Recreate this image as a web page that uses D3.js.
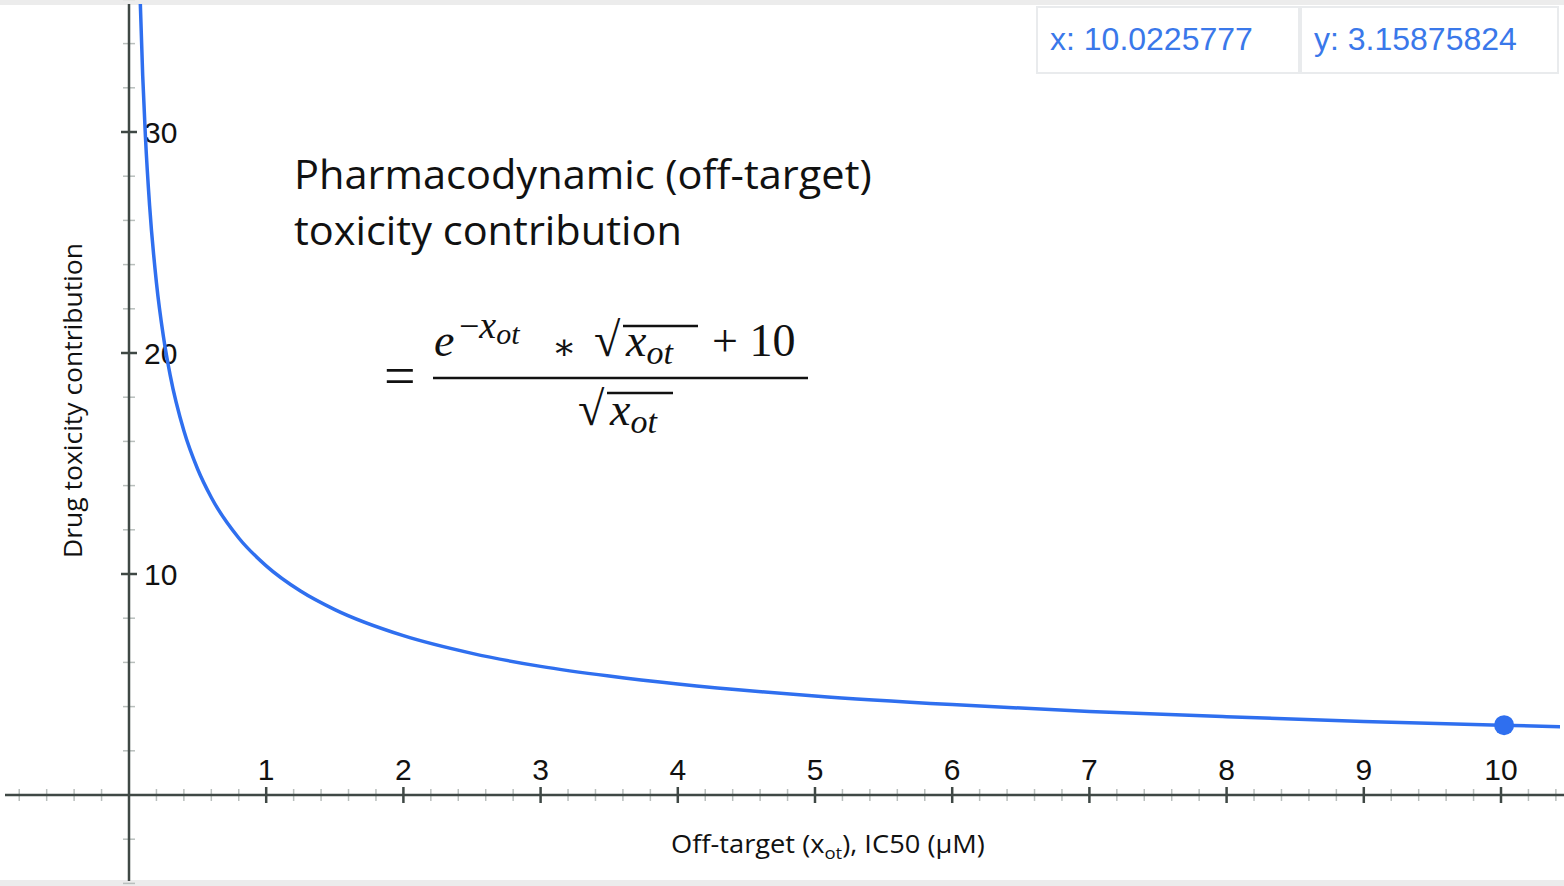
<!DOCTYPE html>
<html>
<head>
<meta charset="utf-8">
<script src="https://cdn.jsdelivr.net/npm/d3@7"></script>
<style>
  body { margin: 0; background: #fff; }
  svg { display: block; }
</style>
</head>
<body>
<svg id="chart" width="1564" height="886"></svg>
<script>
// curve: off-target IC50 (x) vs toxicity contribution (y)
var XOT = [0.08, 0.1, 0.12, 0.15, 0.2, 0.25, 0.3, 0.4, 0.5, 0.6, 0.8, 1, 1.25, 1.5, 2, 2.5, 3, 3.5, 4, 5, 6, 7, 8, 9, 10, 10.45];
var TOX = [36.28, 32.53, 29.75, 26.68, 23.18, 20.78, 19.0, 16.48, 14.75, 13.46, 11.63, 10.37, 9.23, 8.39, 7.21, 6.41, 5.82, 5.38, 5.02, 4.48, 4.09, 3.78, 3.54, 3.33, 3.16, 3.09];
var X_TICKS = [1, 2, 3, 4, 5, 6, 7, 8, 9, 10];
var Y_TICKS = [10, 20, 30];
var POINT = [10.0225777, 3.15875824];
var READOUT = ['x: 10.0225777', 'y: 3.15875824'];

var svg = d3.select('#chart');
var W = 1564, H = 886;

var x = d3.scaleLinear().domain([0, 10]).range([129, 1501]);
var y = d3.scaleLinear().domain([0, 30]).range([795, 132]);

// stretch a text horizontally so it spans `target` px, anchored at x0 (the source font is wider than ours)
function stretch(sel, x0, target){
  var w = sel.node().getComputedTextLength();
  sel.attr('transform', 'translate(' + x0 + ',0) scale(' + (target / w) + ',1) translate(' + (-x0) + ',0)');
}

// faint frame strips like the screenshot
svg.append('rect').attr('x', 0).attr('y', 0).attr('width', W).attr('height', 5).attr('fill', '#ececec');
svg.append('rect').attr('x', 0).attr('y', 880).attr('width', W).attr('height', 6).attr('fill', '#ececec');

var axisCol = '#3f4845';

// minor ticks
var xMinor = d3.range(-4, 53).map(function(i){ return i * 0.2; }).filter(function(v){ return Math.abs(v - Math.round(v)) > 0.01; });
svg.append('g').selectAll('line').data(xMinor).enter().append('line')
  .attr('x1', function(d){ return x(d); }).attr('x2', function(d){ return x(d); })
  .attr('y1', y(0) - 6).attr('y2', y(0) + 6)
  .attr('stroke', '#b9bfbd').attr('stroke-width', 1.5);

var yMinor = d3.range(-4, 38, 2).filter(function(v){ return v % 10 !== 0; });
svg.append('g').selectAll('line').data(yMinor).enter().append('line')
  .attr('x1', x(0) - 6).attr('x2', x(0) + 6)
  .attr('y1', function(d){ return y(d); }).attr('y2', function(d){ return y(d); })
  .attr('stroke', '#b9bfbd').attr('stroke-width', 1.5);

// axis lines
svg.append('line').attr('x1', 5).attr('x2', W).attr('y1', y(0)).attr('y2', y(0))
  .attr('stroke', axisCol).attr('stroke-width', 2.5);
svg.append('line').attr('x1', x(0)).attr('x2', x(0)).attr('y1', 4).attr('y2', 881)
  .attr('stroke', axisCol).attr('stroke-width', 2.5);

// major ticks + labels
var xt = svg.append('g').selectAll('g').data(X_TICKS).enter().append('g');
xt.append('line')
  .attr('x1', function(d){ return x(d); }).attr('x2', function(d){ return x(d); })
  .attr('y1', y(0) - 8).attr('y2', y(0) + 8)
  .attr('stroke', axisCol).attr('stroke-width', 2.5);
xt.append('text')
  .attr('x', function(d){ return x(d); }).attr('y', 780)
  .attr('text-anchor', 'middle')
  .attr('font-family', 'Liberation Sans, Arial, sans-serif').attr('font-size', 30)
  .attr('fill', '#111')
  .text(function(d){ return d; });

var yt = svg.append('g').selectAll('g').data(Y_TICKS).enter().append('g');
yt.append('line')
  .attr('x1', x(0) - 8).attr('x2', x(0) + 8)
  .attr('y1', function(d){ return y(d); }).attr('y2', function(d){ return y(d); })
  .attr('stroke', axisCol).attr('stroke-width', 2.5);
yt.append('text')
  .attr('x', x(0) + 15).attr('y', function(d){ return y(d) + 11; })
  .attr('font-family', 'Liberation Sans, Arial, sans-serif').attr('font-size', 30)
  .attr('fill', '#111')
  .text(function(d){ return d; });

// the curve
var line = d3.line()
  .x(function(d){ return x(d[0]); })
  .y(function(d){ return y(d[1]); })
  .curve(d3.curveMonotoneX);

svg.append('defs').append('clipPath').attr('id', 'clip')
  .append('rect').attr('x', 0).attr('y', 4).attr('width', 1560).attr('height', 876);

svg.append('path')
  .datum(d3.zip(XOT, TOX))
  .attr('clip-path', 'url(#clip)')
  .attr('d', line)
  .attr('fill', 'none')
  .attr('stroke', '#2f6fef')
  .attr('stroke-width', 3.5);

svg.append('circle')
  .attr('cx', x(POINT[0])).attr('cy', y(POINT[1]))
  .attr('r', 10).attr('fill', '#2f6fef');

// readout boxes top right
var boxes = [[1037, 1299], [1301, 1558]];
var rb = svg.append('g').selectAll('g').data(READOUT).enter().append('g');
rb.append('rect')
  .attr('x', function(d, i){ return boxes[i][0]; }).attr('y', 7)
  .attr('width', function(d, i){ return boxes[i][1] - boxes[i][0]; }).attr('height', 66)
  .attr('fill', '#fff').attr('stroke', '#e9ebed').attr('stroke-width', 2);
rb.append('text')
  .attr('x', function(d, i){ return boxes[i][0] + 13; }).attr('y', 50)
  .attr('font-family', 'Liberation Sans, Arial, sans-serif').attr('font-size', 32)
  .attr('fill', '#3a78ea')
  .text(function(d){ return d; });

// title
var cal = '"Open Sans", Lato, sans-serif';
var t1 = svg.append('text').attr('x', 294).attr('y', 189)
  .attr('font-family', cal).attr('font-size', 40).attr('fill', '#111')
  .text('Pharmacodynamic (off-target)');
stretch(t1, 294, 578);
var t2 = svg.append('text').attr('x', 294).attr('y', 245)
  .attr('font-family', cal).attr('font-size', 40).attr('fill', '#111')
  .text('toxicity contribution');
stretch(t2, 294, 388);

// formula
var mf = '"Liberation Serif", "DejaVu Serif", serif';
var eq = svg.append('g').attr('font-family', mf).attr('fill', '#111');
eq.append('text').attr('x', 384).attr('y', 395).attr('font-size', 56).text('=');
eq.append('line').attr('x1', 433).attr('x2', 808).attr('y1', 378).attr('y2', 378)
  .attr('stroke', '#111').attr('stroke-width', 2.5);

var num = eq.append('text').attr('y', 356).attr('font-size', 46);
num.append('tspan').attr('x', 434).attr('font-style', 'italic').text('e');
num.append('tspan').attr('x', 459).attr('dy', -18).attr('font-size', 36).text('\u2212');
num.append('tspan').attr('font-size', 38).attr('font-style', 'italic').text('x');
num.append('tspan').attr('dy', 6).attr('font-size', 30).attr('font-style', 'italic').text('ot');
num.append('tspan').attr('x', 552).attr('dy', 15).attr('font-size', 36).text('\u2217');
num.append('tspan').attr('x', 594).attr('dy', -3).attr('font-size', 48).text('\u221A');
num.append('tspan').attr('x', 626).attr('font-style', 'italic').text('x');
num.append('tspan').attr('dy', 8).attr('font-size', 34).attr('font-style', 'italic').text('ot');
num.append('tspan').attr('x', 712).attr('dy', -8).text('+ 10');
eq.append('line').attr('x1', 623).attr('x2', 698).attr('y1', 326).attr('y2', 326)
  .attr('stroke', '#111').attr('stroke-width', 2.5);

var den = eq.append('text').attr('y', 425).attr('font-size', 46);
den.append('tspan').attr('x', 578).attr('font-size', 48).text('\u221A');
den.append('tspan').attr('x', 610).attr('font-style', 'italic').text('x');
den.append('tspan').attr('dy', 8).attr('font-size', 34).attr('font-style', 'italic').text('ot');
eq.append('line').attr('x1', 607).attr('x2', 673).attr('y1', 393).attr('y2', 393)
  .attr('stroke', '#111').attr('stroke-width', 2.5);

// axis titles
var yl = svg.append('text')
  .attr('x', 0).attr('y', 0)
  .attr('font-family', cal).attr('font-size', 25).attr('fill', '#111')
  .text('Drug toxicity contribution');
var ylw = yl.node().getComputedTextLength();
yl.attr('transform', 'translate(82,558) rotate(-90) scale(' + (315 / ylw) + ',1)');

var xl = svg.append('text').attr('x', 671).attr('y', 853)
  .attr('font-family', cal).attr('font-size', 25).attr('fill', '#111');
xl.append('tspan').text('Off-target (x');
xl.append('tspan').attr('dy', 6).attr('font-size', 17).text('ot');
xl.append('tspan').attr('dy', -6).text('), IC50 (\u03BCM)');
stretch(xl, 671, 314);
</script>
</body>
</html>
